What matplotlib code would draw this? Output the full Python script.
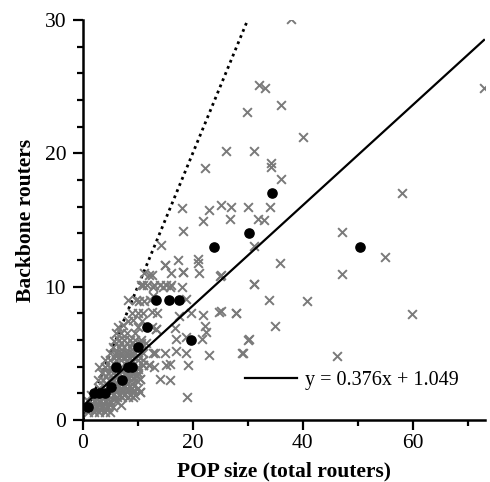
import matplotlib
matplotlib.use("Agg")
import matplotlib.pyplot as plt
from matplotlib.ticker import MultipleLocator

plt.rcParams['font.family'] = ['Liberation Serif', 'DejaVu Serif']

# individual POPs (gray crosses): POP size vs backbone routers
pop_x = [
    # dense cluster near the origin
    1, 2, 3, 4, 5,
    0.5, 1.5, 2.5, 3.5, 4.5, 5.5, 6.9,
    1, 2, 3, 4, 5, 6,
    1.5, 2.5, 3.5, 4.5, 5.5, 6.5, 7.5, 8.5, 9.5, 10.4,
    3, 5, 6, 7, 8, 9, 10,
    2.7, 3.7, 4.7, 5.7, 6.7, 7.7, 8.7, 9.7, 10.4,
    3.5, 4.5, 5.5, 6.5, 8, 9, 10,
    3, 4, 5, 7, 10, 11, 12.1, 13,
    4, 5, 6, 7, 8, 9, 10, 11,
    5, 6, 7, 8, 9, 11,
    5.5, 6.5, 7.5, 8.5, 9.5,
    5.6, 6.5, 7.5, 8.5, 9.5, 10.5,
    6, 7, 8, 9.5,
    6.4, 7.3, 8.2, 9.1, 10, 10.7,
    9, 10, 11, 12.5, 13.5, 12.5, 13.3,
    8.3, 9.7, 10.3, 11.1, 12.3, 12.8,
    10.6, 10.9, 11.6, 12.8, 13, 14.1, 14.6, 15.1, 15.8, 16, 18.1,
    11.2, 12.1, 12.5, 14.9, 16.1, 18.2, 21.2, 25,
    # extra fill of the cluster
    1.2, 2.2, 3.2, 4.2, 1.8, 2.8, 3.8, 4.8, 6.2, 7.2, 8.2, 9.2,
    5.2, 6.2, 7.2, 8.2, 9.2, 4.2, 6.0, 7.0, 8.0, 9.0,
    4.2, 6.2, 7.8, 8.8, 9.8, 5.2, 6.0, 7.0, 8.0, 9.0, 10.0,
    6.0, 7.0, 8.0, 9.0, 10.0, 7.0, 8.0, 9.0, 10.5, 11.5,
    # medium range
    12.7, 13.1, 14.9, 17, 18.8, 23, 29.1,
    15.2, 15.9, 19.2, 11, 12.1,
    14.1, 15.9, 10.4, 10.4, 18.9,
    13.3, 16.7, 22.2, 22.4, 17, 18.8, 21.6, 30.1,
    17.5, 19.7, 21.9, 24.8, 27.9, 25.1,
    18.7, 14.9, 17.3, 21, 21, 18.2, 14.2, 18.2,
    21.9, 26.7, 18.1, 22.9, 25.2, 26.9, 30, 34.1,
    22.2, 26, 31.1, 34.2, 34.2, 36, 31.9, 33,
    # sparse larger POPs
    37.9, 32.1, 33.2, 29.9, 36, 40.1, 31.1, 31.1, 47.1,
    58, 73, 54.9, 35.9, 47.1, 31.1, 33.9, 40.8, 59.9,
    34.9, 30.2, 29, 46.2, 25.2, 27.8,
]
pop_y = [
    0.6, 0.6, 0.6, 0.6, 0.6,
    1.0, 1.0, 1.0, 1.0, 1.0, 1.0, 1.1,
    1.4, 1.4, 1.4, 1.4, 1.4, 1.4,
    1.9, 1.9, 1.9, 1.9, 1.9, 1.9, 1.9, 1.9, 1.9, 2.1,
    2.4, 2.4, 2.4, 2.4, 2.4, 2.4, 2.4,
    3.0, 3.0, 3.0, 3.0, 3.0, 3.0, 3.0, 3.0, 3.05,
    3.5, 3.5, 3.5, 3.5, 3.5, 3.5, 3.5,
    4.0, 4.0, 4.0, 4.0, 4.0, 4.1, 4.1, 4.0,
    4.5, 4.5, 4.5, 4.5, 4.5, 4.5, 4.5, 4.5,
    5.0, 5.0, 5.0, 5.0, 5.0, 5.0,
    5.5, 5.5, 5.5, 5.5, 5.5,
    5.9, 6.0, 6.0, 6.0, 6.0, 6.0,
    6.5, 6.5, 6.5, 6.5,
    7.0, 7.1, 7.4, 7.5, 7.0, 7.4,
    8.0, 8.0, 8.0, 8.1, 8.0, 7.0, 6.8,
    9.0, 9.0, 8.9, 8.9, 9.0, 9.3,
    10.1, 10.1, 10.1, 10.0, 10.1, 10.1, 10.0, 10.1, 10.0, 10.1, 10.0,
    11.0, 10.9, 10.9, 11.6, 11.0, 11.1, 11.0, 10.8,
    0.8, 0.8, 0.8, 0.8, 1.2, 1.2, 1.2, 1.2, 1.7, 1.7, 1.7, 1.7,
    2.2, 2.2, 2.2, 2.2, 2.2, 2.7, 2.7, 2.7, 2.7, 2.7,
    3.3, 3.3, 3.3, 3.3, 3.3, 3.8, 3.8, 3.8, 3.8, 3.8, 3.8,
    4.8, 4.8, 4.8, 4.8, 4.8, 5.8, 5.8, 5.8, 5.8, 5.8,
    5.0, 5.0, 5.0, 5.2, 5.0, 4.9, 5.0,
    4.1, 4.2, 4.1, 4.1, 4.1,
    3.1, 3.0, 3.05, 2.1, 1.75,
    6.8, 6.9, 7.05, 6.6, 6.1, 6.2, 6.1, 6.0,
    7.8, 8.0, 7.9, 8.1, 8.0, 8.2,
    9.1, 11.6, 12.0, 12.1, 11.8, 11.1, 13.1, 14.2,
    14.95, 15.1, 15.9, 15.75, 16.1, 15.95, 16.0, 16.0,
    18.9, 20.2, 20.2, 19.3, 19.0, 18.1, 15.1, 15.0,
    30.1, 25.1, 24.9, 23.1, 23.6, 21.2, 13.05, 10.2, 14.1,
    17.0, 24.9, 12.2, 11.8, 10.95, 10.2, 9.0, 8.9, 7.95,
    7.05, 6.05, 5.0, 4.8, 10.9, 8.0,
]

# binned averages (black dots)
avg_x = [1, 2.1, 3.0, 4.0, 5.1, 6.1, 7.1, 8.2, 9.0, 10, 11.6, 13.3, 15.7,
         17.5, 19.7, 23.8, 30.3, 34.5, 50.5]
avg_y = [1.0, 2.0, 2.0, 2.0, 2.5, 3.95, 3.0, 4.0, 4.0, 5.5, 7.0, 9.0, 9.0,
         9.0, 6.0, 13.0, 14.0, 17.0, 13.0]

slope, intercept = 0.376, 1.049
fit_x = [0, 73]
diag_x = [0, 30]

fig = plt.figure(figsize=(4.9, 4.82), dpi=100)
ax = fig.add_axes([0.169, 0.1286, 0.821, 0.83])

ax.plot(diag_x, diag_x, color='black', linestyle=(0, (1, 1.4)), lw=2.0, zorder=1)
ax.scatter(pop_x, pop_y, marker='x', s=40, color='#7a7a7a', linewidths=1.4, zorder=2)
ax.scatter(avg_x, avg_y, marker='o', s=44, color='black', zorder=3)
ax.plot(fit_x, [slope * v + intercept for v in fit_x], color='black', lw=1.6,
        zorder=4, label='y = %.3fx + %.3f' % (slope, intercept))

ax.set_xlim(0, 73.2)
ax.set_ylim(0, 30)
ax.xaxis.set_major_locator(MultipleLocator(20))
ax.xaxis.set_minor_locator(MultipleLocator(10))
ax.yaxis.set_major_locator(MultipleLocator(10))
ax.yaxis.set_minor_locator(MultipleLocator(2))
for s in ['top', 'right']:
    ax.spines[s].set_visible(False)
for s in ['left', 'bottom']:
    ax.spines[s].set_linewidth(1.8)
    ax.spines[s].set_clip_on(False)
ax.tick_params(which='major', direction='out', length=7, width=1.6, labelsize=15.5, pad=3)
ax.tick_params(which='minor', direction='out', length=4, width=1.6)
ax.tick_params(axis='y', which='major', pad=5)

ax.set_xlabel('POP size (total routers)', fontsize=15.5, fontweight='bold', labelpad=6)
ax.set_ylabel('Backbone routers', fontsize=15.5, fontweight='bold', labelpad=6)

ax.legend(loc='center right', bbox_to_anchor=(0.96, 0.1), frameon=False,
          fontsize=14.5, handlelength=2.6, handletextpad=0.4, borderpad=0)

fig.savefig('out.png', dpi=100)
